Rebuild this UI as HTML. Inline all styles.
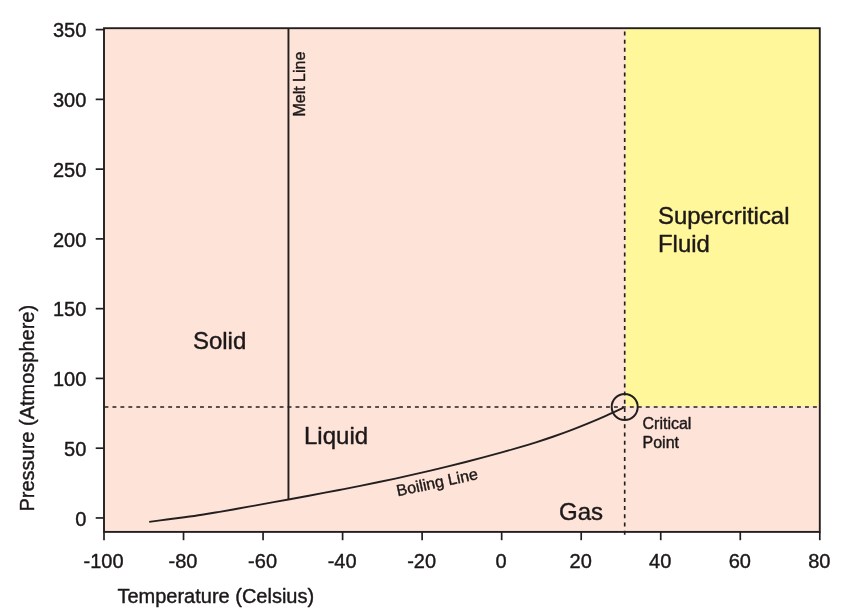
<!DOCTYPE html>
<html lang="en"><head><meta charset="utf-8"><title>CO2 phase diagram</title>
<style>html,body{margin:0;padding:0;background:#fff;overflow:hidden;}svg{display:block;}text{font-family:'Liberation Sans', Arial, Helvetica, sans-serif;fill:#1c1819;stroke:#1c1819;stroke-width:0.4px;stroke-linejoin:round;}</style></head><body>
<svg width="843" height="615" viewBox="0 0 843 615" style="will-change:transform;transform:translateZ(0)">
<rect x="0" y="0" width="843" height="615" fill="#ffffff"/>
<rect x="104.00" y="28.20" width="715.80" height="503.70" fill="#fee3d8"/>
<rect x="625.50" y="28.20" width="194.30" height="378.00" fill="#fff799"/>
<line x1="104.5" y1="407.00" x2="819.80" y2="407.00" stroke="#231f20" stroke-width="1.65" stroke-dasharray="3.9 4.06"/>
<line x1="624.70" y1="534.67" x2="624.70" y2="28.20" stroke="#231f20" stroke-width="1.65" stroke-dasharray="4 4.183"/>
<line x1="288.45" y1="28.20" x2="288.45" y2="499.86" stroke="#231f20" stroke-width="1.9"/>
<path d="M149.20 521.85 C152.13 521.47 160.92 520.33 166.78 519.56 C172.64 518.79 178.50 518.05 184.36 517.25 C190.22 516.44 196.08 515.62 201.94 514.72 C207.80 513.82 213.67 512.85 219.53 511.86 C225.39 510.87 231.25 509.81 237.11 508.77 C242.97 507.72 248.83 506.65 254.69 505.59 C260.55 504.52 266.41 503.46 272.27 502.40 C278.13 501.34 283.99 500.27 289.85 499.20 C295.71 498.13 301.57 497.06 307.43 495.97 C313.29 494.88 319.15 493.79 325.01 492.68 C330.88 491.57 336.74 490.45 342.60 489.32 C348.46 488.18 354.32 487.03 360.18 485.86 C366.04 484.68 371.90 483.49 377.76 482.28 C383.62 481.06 389.48 479.83 395.34 478.56 C401.20 477.30 407.06 476.01 412.92 474.69 C418.78 473.37 424.64 472.02 430.50 470.65 C436.36 469.27 442.22 467.87 448.09 466.43 C453.95 464.99 459.81 463.53 465.67 462.03 C471.53 460.53 477.39 459.01 483.25 457.44 C489.11 455.88 494.97 454.29 500.83 452.66 C506.69 451.03 512.55 449.38 518.41 447.66 C524.27 445.93 530.13 444.17 535.99 442.31 C541.85 440.45 547.71 438.52 553.57 436.49 C559.43 434.45 565.30 432.32 571.16 430.10 C577.02 427.87 582.88 425.55 588.74 423.13 C594.60 420.71 600.46 418.20 606.32 415.58 C612.18 412.97 620.97 408.81 623.90 407.45" fill="none" stroke="#231f20" stroke-width="1.9" stroke-linejoin="round"/>
<circle cx="624.70" cy="407.00" r="13.0" fill="none" stroke="#231f20" stroke-width="2"/>
<rect x="104.00" y="28.20" width="715.80" height="503.70" fill="none" stroke="#231f20" stroke-width="1.9"/>
<line x1="95.7" y1="517.95" x2="104.00" y2="517.95" stroke="#231f20" stroke-width="1.7"/>
<text x="86.3" y="525.65" font-size="20" text-anchor="end">0</text>
<line x1="95.7" y1="448.19" x2="104.00" y2="448.19" stroke="#231f20" stroke-width="1.7"/>
<text x="86.3" y="455.89" font-size="20" text-anchor="end">50</text>
<line x1="95.7" y1="378.42" x2="104.00" y2="378.42" stroke="#231f20" stroke-width="1.7"/>
<text x="86.3" y="386.12" font-size="20" text-anchor="end">100</text>
<line x1="95.7" y1="308.66" x2="104.00" y2="308.66" stroke="#231f20" stroke-width="1.7"/>
<text x="86.3" y="316.36" font-size="20" text-anchor="end">150</text>
<line x1="95.7" y1="238.89" x2="104.00" y2="238.89" stroke="#231f20" stroke-width="1.7"/>
<text x="86.3" y="246.59" font-size="20" text-anchor="end">200</text>
<line x1="95.7" y1="169.13" x2="104.00" y2="169.13" stroke="#231f20" stroke-width="1.7"/>
<text x="86.3" y="176.83" font-size="20" text-anchor="end">250</text>
<line x1="95.7" y1="99.36" x2="104.00" y2="99.36" stroke="#231f20" stroke-width="1.7"/>
<text x="86.3" y="107.06" font-size="20" text-anchor="end">300</text>
<line x1="95.7" y1="29.60" x2="104.00" y2="29.60" stroke="#231f20" stroke-width="1.7"/>
<text x="86.3" y="37.30" font-size="20" text-anchor="end">350</text>
<line x1="104.00" y1="531.90" x2="104.00" y2="540.2" stroke="#231f20" stroke-width="1.7"/>
<text x="103.50" y="567.7" font-size="20" text-anchor="middle">-100</text>
<line x1="183.53" y1="531.90" x2="183.53" y2="540.2" stroke="#231f20" stroke-width="1.7"/>
<text x="183.03" y="567.7" font-size="20" text-anchor="middle">-80</text>
<line x1="263.07" y1="531.90" x2="263.07" y2="540.2" stroke="#231f20" stroke-width="1.7"/>
<text x="262.57" y="567.7" font-size="20" text-anchor="middle">-60</text>
<line x1="342.60" y1="531.90" x2="342.60" y2="540.2" stroke="#231f20" stroke-width="1.7"/>
<text x="342.10" y="567.7" font-size="20" text-anchor="middle">-40</text>
<line x1="422.13" y1="531.90" x2="422.13" y2="540.2" stroke="#231f20" stroke-width="1.7"/>
<text x="421.63" y="567.7" font-size="20" text-anchor="middle">-20</text>
<line x1="501.67" y1="531.90" x2="501.67" y2="540.2" stroke="#231f20" stroke-width="1.7"/>
<text x="501.17" y="567.7" font-size="20" text-anchor="middle">0</text>
<line x1="581.20" y1="531.90" x2="581.20" y2="540.2" stroke="#231f20" stroke-width="1.7"/>
<text x="580.70" y="567.7" font-size="20" text-anchor="middle">20</text>
<line x1="660.73" y1="531.90" x2="660.73" y2="540.2" stroke="#231f20" stroke-width="1.7"/>
<text x="660.23" y="567.7" font-size="20" text-anchor="middle">40</text>
<line x1="740.27" y1="531.90" x2="740.27" y2="540.2" stroke="#231f20" stroke-width="1.7"/>
<text x="739.77" y="567.7" font-size="20" text-anchor="middle">60</text>
<line x1="819.80" y1="531.90" x2="819.80" y2="540.2" stroke="#231f20" stroke-width="1.7"/>
<text x="819.30" y="567.7" font-size="20" text-anchor="middle">80</text>
<text x="117.4" y="603" font-size="20">Temperature (Celsius)</text>
<text transform="translate(33.7 511.6) rotate(-90)" font-size="20">Pressure (Atmosphere)</text>
<text x="192.9" y="348.6" font-size="24">Solid</text>
<text x="304" y="443.9" font-size="24">Liquid</text>
<text x="559" y="520" font-size="24">Gas</text>
<text x="658" y="223.6" font-size="23.9">Supercritical</text>
<text x="658" y="252.1" font-size="23.9">Fluid</text>
<text x="642.5" y="428.8" font-size="16">Critical</text>
<text x="642.5" y="447.8" font-size="16">Point</text>
<text transform="translate(305 116.6) rotate(-90)" font-size="16">Melt Line</text>
<text transform="translate(397.8 496.3) rotate(-12.1)" font-size="16">Boiling Line</text>
</svg></body></html>
